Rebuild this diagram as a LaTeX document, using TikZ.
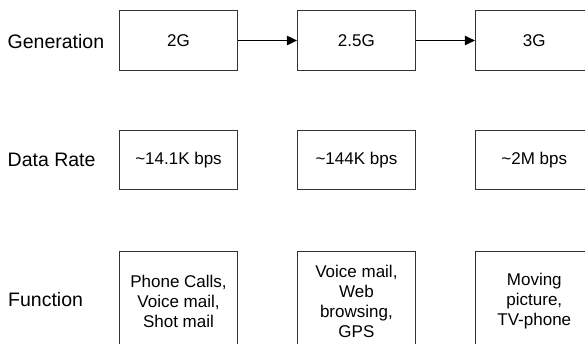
\documentclass[tikz,border=0pt]{standalone}
\usepackage{fontspec}
\setmainfont{Liberation Sans}
\usetikzlibrary{positioning, arrows.meta}

\begin{document}
\begin{tikzpicture}[x=1pt, y=-1pt]
    % settings for this picture
    \tikzset{
      node distance=59pt,
      genbox/.style={draw=black!80, line width=0.9pt, minimum width=118pt,
        minimum height=59.5pt, align=center, font=\fontsize{17}{20}\selectfont},
      funcbox/.style={genbox, minimum height=100pt},
      rowlabel/.style={anchor=west, inner sep=0pt, font=\fontsize{19.5}{22}\selectfont},
      step arrow/.style={-{Triangle[length=10pt, width=9.5pt]}, line width=0.9pt},
    }
    \useasboundingbox (0,0) rectangle (585,343);
    \clip (0,0) rectangle (585,343);

    % generations
    \node[genbox] (g2) at (178.5,40.5) {2G};
    \node[genbox, right=of g2] (g25) {2.5G};
    \node[genbox, right=of g25] (g3) {3G};

    % data rates
    \node[genbox, below=59pt of g2] (r2) {\textasciitilde14.1K bps};
    \node[genbox, below=59pt of g25] (r25) {\textasciitilde144K bps};
    \node[genbox, below=59pt of g3] (r3) {\textasciitilde2M bps};

    % functions
    \node[funcbox, below=61pt of r2] (f2) {Phone Calls,\\Voice mail,\\Shot mail};
    \node[funcbox, below=61pt of r25] (f25) {Voice mail,\\Web\\browsing,\\GPS};
    \node[funcbox, below=61pt of r3] (f3) {Moving\\picture,\\TV-phone};

    % row labels
    \node[rowlabel] (lgen) at (7.5,41.5) {Generation};
    \node[rowlabel] (lrate) at (7.5,160) {Data Rate};
    \node[rowlabel] (lfunc) at (8,300) {Function};

    % transitions
    \draw[step arrow] (g2) -- (g25);
    \draw[step arrow] (g25) -- (g3);

\end{tikzpicture}
\end{document}
